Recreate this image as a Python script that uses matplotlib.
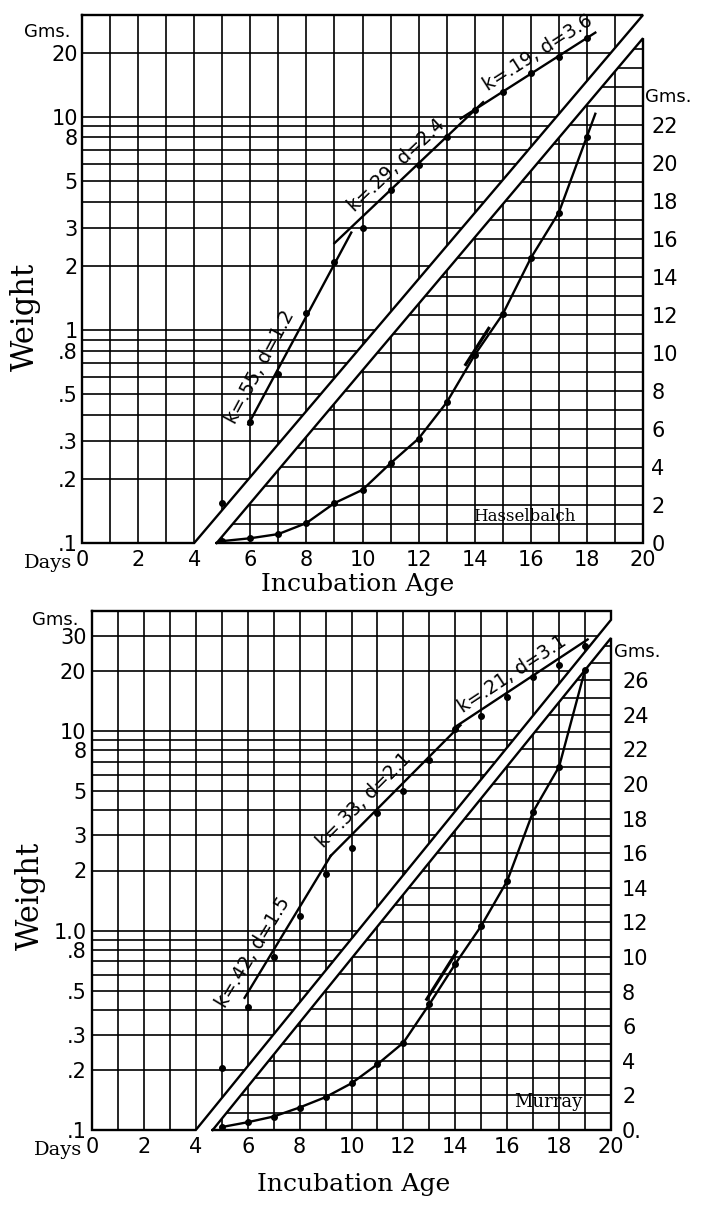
import numpy as np
import matplotlib
matplotlib.use("Agg")
import matplotlib.pyplot as plt
from matplotlib.patches import Polygon
from matplotlib.ticker import NullLocator

# ---------------- data ----------------
# Hasselbalch (upper chart)
top_days = [5, 6, 7, 8, 9, 10, 11, 12, 13, 14, 15, 16, 17, 18]
top_weight_log = [0.154, 0.37, 0.62, 1.2, 2.08, 3.0, 4.55, 5.95, 8.05, 10.8, 13.1, 16.0, 19.0, 23.4]
top_weight_lin = [0.1, 0.25, 0.47, 1.05, 2.1, 2.8, 4.2, 5.5, 7.4, 9.9, 12.05, 15.0, 17.4, 21.4]
top_lin_tail = [18.3, 22.6]
top_fit_days = [[5.93, 9.6], [9.0, 14.3], [13.5, 18.3]]
top_fit_weights = [[0.36, 2.86], [2.55, 11.7], [9.8, 24.8]]
top_fit_labels = ["k=.55, d=1.2", "k=.29, d=2.4", "k=.19, d=3.6"]
top_tangent_days = [13.68, 14.5]
top_tangent_grams = [9.4, 11.3]
top_left_ticks = [0.1, 0.2, 0.3, 0.5, 0.8, 1, 2, 3, 5, 8, 10, 20]
top_left_labels = [".1", ".2", ".3", ".5", ".8", "1", "2", "3", "5", "8", "10", "20"]
top_right_ticks = [0, 2, 4, 6, 8, 10, 12, 14, 16, 18, 20, 22]
top_right_labels = ["0", "2", "4", "6", "8", "10", "12", "14", "16", "18", "20", "22"]

# Murray (lower chart)
bot_days = [5, 6, 7, 8, 9, 10, 11, 12, 13, 14, 15, 16, 17, 18, 19]
bot_weight_log = [0.205, 0.415, 0.74, 1.18, 1.91, 2.6, 3.9, 5.0, 7.2, 10.2, 11.9, 14.8, 18.6, 21.5, 26.7]
bot_weight_lin = [0.17, 0.45, 0.78, 1.3, 1.9, 2.7, 3.8, 5.05, 7.27, 9.6, 11.8, 14.4, 18.4, 21.0, 26.6]
bot_fit_days = [[5.88, 9.2], [9.2, 14.2], [14.0, 19.1]]
bot_fit_weights = [[0.46, 2.37], [2.37, 10.7], [10.5, 28.8]]
bot_fit_labels = ["k=.42, d=1.5", "k=.33, d=2.1", "k=.21, d=3.1"]
bot_tangent_days = [12.9, 14.05]
bot_tangent_grams = [7.56, 10.3]
bot_left_ticks = [0.1, 0.2, 0.3, 0.5, 0.8, 1, 2, 3, 5, 8, 10, 20, 30]
bot_left_labels = [".1", ".2", ".3", ".5", ".8", "1.0", "2", "3", "5", "8", "10", "20", "30"]
bot_right_ticks = [0, 2, 4, 6, 8, 10, 12, 14, 16, 18, 20, 22, 24, 26]
bot_right_labels = ["0.", "2", "4", "6", "8", "10", "12", "14", "16", "18", "20", "22", "24", "26"]

x_ticks = [0, 2, 4, 6, 8, 10, 12, 14, 16, 18, 20]
log_grid = [0.1, 0.2, 0.3, 0.4, 0.5, 0.6, 0.7, 0.8, 0.9,
            1, 2, 3, 4, 5, 6, 7, 8, 9, 10, 20, 30]

# ---------------- figure ----------------
W, H = 703, 1205
plt.rcParams['font.family'] = ['DejaVu Sans']
fig = plt.figure(figsize=(W / 100, H / 100), dpi=100)

LW_GRID = 1.2
LW_EDGE = 1.7
LW_DATA = 1.7
NUM_FS = 15


def rect_px(l, t, r, b):
    return [l / W, 1 - b / H, (r - l) / W, (b - t) / H]


def panel(px, log_top, lin_top, up_diag, low_diag, days, wlog, wlin, tail,
          fit_d, fit_w, fit_lab, lab_t, lab_off, tan_d, tan_g,
          lticks, llabels, rticks, rlabels, lpad, rpad,
          name, name_xy, name_fs, gms_l, gms_r, days_xy):
    ax = fig.add_axes(rect_px(*px))
    ax.set_yscale('log')
    ax.set_xlim(0, 20)
    ax.set_ylim(0.1, log_top)
    ax2 = ax.twinx()
    ax2.set_ylim(0, lin_top)
    for a in (ax, ax2):
        for s in a.spines.values():
            s.set_visible(False)
    ax.patch.set_visible(False)

    upper = Polygon([(0, 0), (up_diag[0], 0), (1, up_diag[1]), (1, 1), (0, 1)],
                    closed=True, transform=ax.transAxes, fc='none', ec='none')
    lower = Polygon([(low_diag[0], 0), (1, 0), (1, low_diag[1])],
                    closed=True, transform=ax.transAxes, fc='none', ec='none')

    for d in range(21):
        for clip in (upper, lower):
            ln = ax.axvline(d, color='k', lw=LW_GRID, zorder=1)
            ln.set_clip_path(clip)
    for v in log_grid:
        if v < log_top:
            ln = ax.axhline(v, color='k', lw=LW_GRID, zorder=1)
            ln.set_clip_path(upper)
    for g in range(0, int(lin_top) + 1):
        ln = ax2.axhline(g, color='k', lw=LW_GRID, zorder=1)
        ln.set_clip_path(lower)

    # outlines of the two grids
    ax.plot([0, 0, up_diag[0], 1, 1, 0], [1, 0, 0, up_diag[1], 1, 1],
            transform=ax.transAxes, color='k', lw=LW_EDGE, clip_on=False,
            solid_joinstyle='miter', zorder=2)
    ax.plot([low_diag[0], 1, 1, low_diag[0]], [0, 0, low_diag[1], 0],
            transform=ax.transAxes, color='k', lw=LW_EDGE, clip_on=False,
            solid_joinstyle='miter', zorder=2)

    # ticks
    ax.set_xticks(x_ticks, [str(t) for t in x_ticks])
    ax.xaxis.set_minor_locator(NullLocator())
    ax.yaxis.set_minor_locator(NullLocator())
    ax.set_yticks(lticks, llabels)
    ax.tick_params(axis='both', length=0, labelsize=NUM_FS)
    ax.tick_params(axis='y', pad=lpad)
    ax.tick_params(axis='x', pad=5)
    ax2.set_yticks(rticks, rlabels)
    ax2.yaxis.set_minor_locator(NullLocator())
    ax2.tick_params(axis='y', length=0, labelsize=NUM_FS, pad=rpad)

    # log data: points + fitted segments
    ax.plot(days, wlog, 'o', color='k', ms=4, zorder=4, clip_on=False)
    for (d0, d1), (w0, w1), lab, t, off in zip(fit_d, fit_w, fit_lab, lab_t, lab_off):
        ax.plot([d0, d1], [w0, w1], color='k', lw=LW_DATA, zorder=3)
        p0 = ax.transData.transform((d0, w0))
        p1 = ax.transData.transform((d1, w1))
        ang = np.degrees(np.arctan2(p1[1] - p0[1], p1[0] - p0[0]))
        dm = d0 + t * (d1 - d0)
        wm = 10 ** (np.log10(w0) + t * (np.log10(w1) - np.log10(w0)))
        nx, ny = -np.sin(np.radians(ang)), np.cos(np.radians(ang))
        ax.annotate(lab, (dm, wm), xytext=(off * nx, off * ny),
                    textcoords='offset points', rotation=ang,
                    rotation_mode='anchor', ha='center', va='center',
                    fontsize=13.5, zorder=5)

    # linear data: smooth growth curve
    ax2.plot(list(days) + [tail[0]], list(wlin) + [tail[1]], color='k',
             lw=LW_DATA, zorder=3)
    ax2.plot(days, wlin, 'o', color='k', ms=4, zorder=4)
    ax2.plot(tan_d, tan_g, color='k', lw=LW_DATA + 0.6, zorder=3)

    ax2.text(name_xy[0], name_xy[1], name, ha='center', va='center',
             fontsize=name_fs, family='DejaVu Serif', zorder=5)
    ax.text(gms_l[0], gms_l[1], "Gms.", transform=ax.transAxes, ha='center',
            va='center', fontsize=13)
    ax.text(gms_r[0], gms_r[1], "Gms.", transform=ax.transAxes, ha='left',
            va='center', fontsize=13)
    ax.text(days_xy[0], days_xy[1], "Days", transform=ax.transAxes,
            ha='right', va='center', fontsize=14, family='DejaVu Serif')
    return ax, ax2


panel((82, 15, 643, 543), 30, 27.8, (0.2, 1.0), (0.24, 0.956),
      top_days, top_weight_log, top_weight_lin, top_lin_tail,
      top_fit_days, top_fit_weights, top_fit_labels,
      [0.26, 0.48, 0.63], [12, 10, 10],
      top_tangent_days, top_tangent_grams,
      top_left_ticks, top_left_labels, top_right_ticks, top_right_labels,
      3, 6, "Hasselbalch", (15.75, 1.37), 12,
      (-0.062, 0.968), (1.004, 0.845), (-0.018, -0.038))

panel((92, 611, 611, 1130), 40, 30, (0.2, 0.983), (0.2325, 0.948),
      bot_days, bot_weight_log, bot_weight_lin, [bot_days[-1], bot_weight_lin[-1]],
      bot_fit_days, bot_fit_weights, bot_fit_labels,
      [0.26, 0.34, 0.48], [12, 11, 9],
      bot_tangent_days, bot_tangent_grams,
      bot_left_ticks, bot_left_labels, bot_right_ticks, bot_right_labels,
      4, 8, "Murray", (17.6, 1.63), 13,
      (-0.071, 0.983), (1.006, 0.921), (-0.018, -0.038))

fig.text(358 / W, 1 - 584 / H, "Incubation Age", ha='center', va='center',
         fontsize=18, family='DejaVu Serif')
fig.text(354 / W, 1 - 1185 / H, "Incubation Age", ha='center', va='center',
         fontsize=18, family='DejaVu Serif')
fig.text(25 / W, 1 - 317 / H, "Weight", ha='center', va='center',
         rotation=90, fontsize=22, family='DejaVu Serif')
fig.text(30 / W, 1 - 896 / H, "Weight", ha='center', va='center',
         rotation=90, fontsize=22, family='DejaVu Serif')

fig.savefig("out.png", dpi=100, facecolor='white')
